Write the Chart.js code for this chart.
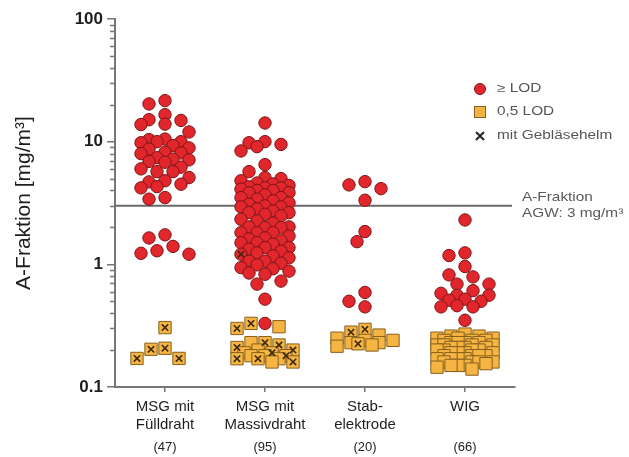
<!DOCTYPE html>
<html><head><meta charset="utf-8">
<script src="https://cdn.jsdelivr.net/npm/chart.js@4.4.1/dist/chart.umd.min.js"></script>
<style>html,body{margin:0;padding:0;background:#fff}canvas{display:block}</style>
</head><body>
<canvas id="c" width="629" height="457"></canvas>
<script>
// ---------- data ----------
const categories = [["MSG mit","Fülldraht"],["MSG mit","Massivdraht"],["Stab-","elektrode"],["WIG"]];
const sampleSizes = ["(47)","(95)","(20)","(66)"];
const yTickValues = [0.1, 1, 10, 100];
const agwLimit = 3;
const seriesLabels = ["≥ LOD", "0,5 LOD", "mit Gebläsehelm"];
const limitLabels = ["A-Fraktion", "AGW: 3 mg/m³"];

// values >= LOD (mg/m³)
const lodFuell = [21.6,20.3,16.6,15.1,14.9,13.9,13.8,12.0,10.4,10.5,10.0,10.0,9.8,9.3,8.9,8.7,8.1,8.0,8.2,7.4,6.9,7.1,7.2,6.8,6.2,6.0,5.7,5.7,5.1,4.7,4.5,4.8,4.3,4.2,3.4,3.5,1.74,1.64,1.29,1.21,1.23,1.40];
const lodMassiv = [14.2,10.0,9.8,9.5,9.1,8.4,6.5,5.7,5.1,5.0,4.8,4.6,4.52,4.4,4.28,4.2,4.2,4.1,4.0,4.0,3.84,3.82,3.68,3.5,3.5,3.4,3.29,3.17,3.09,2.99,2.94,2.94,2.83,2.72,2.64,2.64,2.56,2.48,2.33,2.26,2.17,2.02,2.02,1.99,1.99,1.81,1.81,1.81,1.70,1.64,1.61,1.55,1.50,1.50,1.46,1.37,1.37,1.33,1.28,1.24,1.21,1.17,1.13,1.06,1.06,1.02,0.99,0.94,0.92,0.88,0.85,0.83,0.73,0.69,0.52,0.33];
const lodStab = [4.72,4.44,4.14,3.33,1.85,1.53,0.59,0.50,0.45];
const lodWig = [2.30,1.24,1.18,0.96,0.82,0.79,0.69,0.69,0.61,0.58,0.56,0.56,0.52,0.51,0.50,0.46,0.45,0.45,0.35];

// values at 0,5 LOD (mg/m³)
const halfFuell = [0.305,0.203,0.171,0.171,0.207];
const halfMassiv = [0.33,0.31,0.30,0.23,0.23,0.22,0.21,0.20,0.20,0.19,0.19,0.18,0.18,0.18,0.17,0.17,0.17,0.16,0.16];
const halfStab = [0.295,0.28,0.265,0.25,0.24,0.24,0.23,0.23,0.225,0.22,0.215];
const halfWig = [0.27,0.26,0.26,0.25,0.25,0.25,0.24,0.24,0.24,0.23,0.23,0.23,0.23,0.22,0.22,0.22,0.22,0.21,0.21,0.21,0.21,0.20,0.20,0.20,0.20,0.19,0.19,0.19,0.19,0.18,0.18,0.18,0.18,0.17,0.17,0.17,0.17,0.16,0.16,0.16,0.16,0.155,0.15,0.15,0.15,0.145,0.14];

// measurements taken with blower helmet (subset of the values above)
const helmetLodMassiv = [1.21];
const helmetHalfFuell = [0.305,0.203,0.171,0.171,0.207];
const helmetHalfMassiv = [0.33,0.30,0.23,0.22,0.21,0.20,0.19,0.18,0.17,0.17,0.16];
const helmetHalfStab = [0.295,0.28,0.225];

const groups = [
  {lod: lodFuell,  half: halfFuell,  hLod: [],              hHalf: helmetHalfFuell},
  {lod: lodMassiv, half: halfMassiv, hLod: helmetLodMassiv, hHalf: helmetHalfMassiv},
  {lod: lodStab,   half: halfStab,   hLod: [],              hHalf: helmetHalfStab},
  {lod: lodWig,    half: halfWig,    hLod: [],              hHalf: []}
];

// ---------- styles ----------
const RED = '#e1262c', RED_B = '#7c1517';
const YEL = '#f6b443', YEL_B = '#86601c';
const AXIS = '#767676';
const FONT = "'Liberation Sans', Arial, Helvetica, sans-serif";

function buildPoints() {
  return groups.map((g, ci) => {
    const pts = [];
    const hl = g.hLod.slice(), hh = g.hHalf.slice();
    g.lod.forEach(v => { const k = hl.indexOf(v); if (k >= 0) hl.splice(k,1); pts.push({v, kind:'lod', helmet:k>=0, cat:ci+1}); });
    g.half.forEach(v => { const k = hh.indexOf(v); if (k >= 0) hh.splice(k,1); pts.push({v, kind:'half', helmet:k>=0, cat:ci+1}); });
    return pts;
  });
}

function swarm(pts, xs, ys) {
  const offsLod = [0,-8,8,-16,16,-24,24];
  const offsHalf = [0,-7,7,-14,14,-21,21,-28,28];
  const placed = [];
  const order = pts.map((p,i)=>i).sort((a,b)=>pts[b].v - pts[a].v);
  for (const i of order) {
    const py = ys.getPixelForValue(pts[i].v);
    const offs = pts[i].kind === 'lod' ? offsLod : offsHalf;
    let best = 0, bestD = -1;
    for (const o of offs) {
      let md = Infinity;
      for (const q of placed) md = Math.min(md, Math.hypot(o-q.o, py-q.y));
      if (md >= 12.5) { best = o; bestD = md; break; }
      if (md > bestD) { bestD = md; best = o; }
    }
    placed.push({o:best, y:py});
    pts[i].o = best;
  }
}

const all = buildPoints();

const overlayPlugin = {
  id: 'overlay',
  beforeDatasetsDraw(chart) {
    const {ctx, chartArea, scales:{x, y}} = chart;
    ctx.save();
    ctx.strokeStyle = AXIS; ctx.lineWidth = 1.5;
    for (let d = 0.1; d < 100; d *= 10) {
      for (let k = 2; k <= 9; k++) {
        const py = Math.round(y.getPixelForValue(k*d)) + 0.5;
        ctx.beginPath(); ctx.moveTo(chartArea.left - 5, py); ctx.lineTo(chartArea.left, py); ctx.stroke();
      }
    }
    const ly = y.getPixelForValue(agwLimit);
    ctx.strokeStyle = '#6a6a6a'; ctx.lineWidth = 2;
    ctx.beginPath(); ctx.moveTo(chartArea.left, ly); ctx.lineTo(chartArea.right - 3, ly); ctx.stroke();
    ctx.restore();
  },
  afterDraw(chart) {
    const {ctx, chartArea, scales:{x, y}} = chart;
    ctx.save();
    const ly = y.getPixelForValue(agwLimit);
    function stretchText(t, tx, ty, size, color) {
      ctx.save();
      ctx.translate(tx, ty); ctx.scale(1.28, 1);
      ctx.font = size + 'px ' + FONT; ctx.fillStyle = color;
      ctx.textAlign = 'left'; ctx.textBaseline = 'middle';
      ctx.fillText(t, 0, 0);
      ctx.restore();
    }
    stretchText(limitLabels[0], chartArea.right + 7, ly - 8, 12, '#5a5a5a');
    stretchText(limitLabels[1], chartArea.right + 7, ly + 8, 12, '#5a5a5a');
    ctx.font = '13px ' + FONT; ctx.fillStyle = '#222'; ctx.textAlign = 'center'; ctx.textBaseline = 'middle';
    sampleSizes.forEach((s, i) => ctx.fillText(s, x.getPixelForValue(i+1), 447));
    const lx = chartArea.right - 35, tx = lx + 17;
    const rows = [89, 112, 136];
    ctx.fillStyle = RED; ctx.strokeStyle = RED_B; ctx.lineWidth = 1;
    ctx.beginPath(); ctx.arc(lx, rows[0], 5.5, 0, Math.PI*2); ctx.fill(); ctx.stroke();
    ctx.fillStyle = YEL; ctx.strokeStyle = YEL_B;
    ctx.fillRect(lx-5.5, rows[1]-5.5, 11, 11); ctx.strokeRect(lx-5.5, rows[1]-5.5, 11, 11);
    ctx.strokeStyle = '#222'; ctx.lineWidth = 2;
    ctx.beginPath(); ctx.moveTo(lx-4, rows[2]-4); ctx.lineTo(lx+4, rows[2]+4); ctx.moveTo(lx+4, rows[2]-4); ctx.lineTo(lx-4, rows[2]+4); ctx.stroke();
    seriesLabels.forEach((t, i) => stretchText(t, tx, rows[i], 12, '#555'));
    ctx.restore();
  }
};

const chart = new Chart(document.getElementById('c'), {
  type: 'scatter',
  data: { datasets: [
    { label: seriesLabels[2], data: [], pointStyle: 'crossRot', radius: 4.5, borderColor: '#3b2a0e', borderWidth: 1.6, backgroundColor: 'transparent' },
    { label: seriesLabels[0], data: [], pointStyle: 'circle', radius: 6.2, backgroundColor: RED, borderColor: RED_B, borderWidth: 1 },
    { label: seriesLabels[1], data: [], pointStyle: 'rect', radius: 8.7, backgroundColor: YEL, borderColor: YEL_B, borderWidth: 1 }
  ]},
  options: {
    responsive: false, animation: false, devicePixelRatio: 1,
    layout: { padding: { left: 0, top: 19, right: 114, bottom: 0 } },
    plugins: { legend: { display: false }, tooltip: { enabled: false } },
    elements: { point: { hoverRadius: 6 } },
    scales: {
      x: {
        type: 'linear', min: 0.5, max: 4.5,
        afterBuildTicks: s => { s.ticks = categories.map((c, i) => ({ value: i + 1 })); },
        afterFit: s => { s.height = 70; },
        ticks: { callback: v => categories[v - 1], color: '#1e1e1e', font: { family: FONT, size: 15 }, padding: 6, autoSkip: false, maxRotation: 0 },
        grid: { drawOnChartArea: false, drawTicks: true, tickLength: 5, color: AXIS, lineWidth: 1.5 },
        border: { color: AXIS, width: 2 }
      },
      y: {
        type: 'logarithmic', min: 0.1, max: 100,
        afterBuildTicks: s => { s.ticks = yTickValues.map(v => ({ value: v, major: true })); },
        afterFit: s => { s.width = 115; },
        ticks: { callback: v => String(v), color: '#1e1e1e', font: { family: FONT, size: 17, weight: 'bold' }, padding: 4, autoSkip: false },
        grid: { drawOnChartArea: false, drawTicks: true, tickLength: 8, color: AXIS, lineWidth: 1.5 },
        border: { color: AXIS, width: 2 },
        title: { display: true, text: 'A-Fraktion [mg/m³]', color: '#1e1e1e', font: { family: FONT, size: 21 }, padding: { top: 12, bottom: 0 } }
      }
    }
  },
  plugins: [overlayPlugin]
});

(function () {
  const xs = chart.scales.x, ys = chart.scales.y;
  const pxPerUnit = xs.getPixelForValue(1) - xs.getPixelForValue(0);
  const red = [], yel = [], hel = [];
  all.forEach(pts => {
    swarm(pts, xs, ys);
    pts.forEach(p => {
      const pt = { x: p.cat + p.o / pxPerUnit, y: p.v };
      (p.kind === 'lod' ? red : yel).push(pt);
      if (p.helmet) hel.push(pt);
    });
  });
  chart.data.datasets[0].data = hel;
  chart.data.datasets[1].data = red;
  chart.data.datasets[2].data = yel;
  chart.update('none');
})();
</script>
</body></html>
